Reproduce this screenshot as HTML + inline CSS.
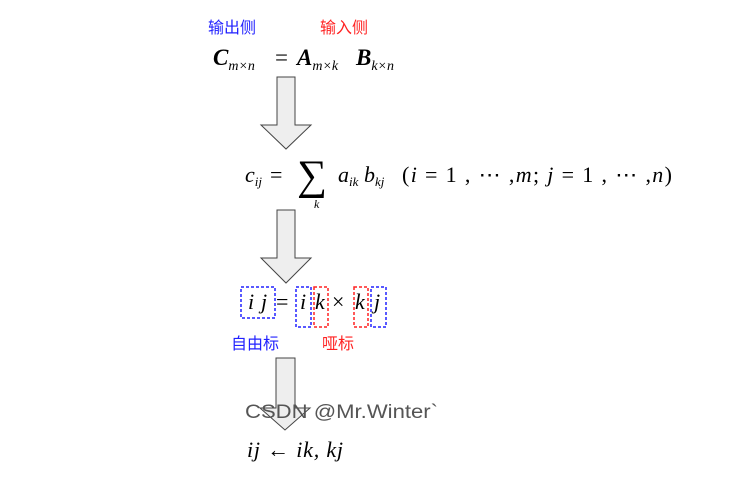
<!DOCTYPE html>
<html><head><meta charset="utf-8"><style>
html,body{margin:0;padding:0;background:#fff;}
svg{display:block}
.m{font-family:"Liberation Serif",serif;font-style:italic;fill:#000}
.r{font-family:"Liberation Serif",serif;fill:#000}
.c{font-family:"Liberation Sans","Noto Sans CJK SC",sans-serif;font-size:16px}
</style></head><body>
<svg width="752" height="483" xmlns="http://www.w3.org/2000/svg">
<text x="208" y="33" class="c" fill="#2222ff">输出侧</text>
<text x="320" y="33" class="c" fill="#ff2222">输入侧</text>

<text y="65" class="m" font-size="23" font-weight="bold"><tspan x="213">C</tspan><tspan font-size="14" font-weight="normal" dy="5">m×n</tspan><tspan class="r" font-style="normal" font-weight="normal" dy="-5" x="275">=</tspan><tspan x="297">A</tspan><tspan font-size="14" font-weight="normal" dy="5">m×k</tspan><tspan dy="-5" x="356">B</tspan><tspan font-size="14" font-weight="normal" dy="5">k×n</tspan></text>

<g fill="#eeeeee" stroke="#444" stroke-width="1">
<polygon points="277,77 295,77 295,125 311,125 286,149 261,125 277,125"/>
<polygon points="277,210 295,210 295,258 311,258 286,283 261,258 277,258"/>
<polygon points="276,358 295,358 295,408 310,408 285,430 260,408 276,408"/>
</g>

<text y="182" class="m" font-size="22"><tspan x="245">c</tspan><tspan font-size="13" dy="4">ij</tspan><tspan class="r" font-style="normal" dy="-4" x="270">=</tspan></text>
<text x="297" y="189" class="r" font-size="42">∑</text>
<text x="314" y="208" class="m" font-size="12">k</text>
<text y="182" class="m" font-size="22"><tspan x="338">a</tspan><tspan font-size="13" dy="4">ik</tspan><tspan dy="-4" x="364">b</tspan><tspan font-size="13" dy="4">kj</tspan></text>
<text x="402" y="182" class="r" font-size="22" textLength="270" lengthAdjust="spacing">(<tspan font-style="italic">i</tspan> = 1 , ⋯ ,<tspan font-style="italic">m</tspan>; <tspan font-style="italic">j</tspan> = 1 , ⋯ ,<tspan font-style="italic">n</tspan>)</text>

<text y="309" class="m" font-size="22"><tspan x="248">i</tspan><tspan x="261">j</tspan><tspan class="r" font-style="normal" x="276">=</tspan><tspan x="300">i</tspan><tspan x="315">k</tspan><tspan class="r" font-style="normal" x="332">×</tspan><tspan x="355">k</tspan><tspan x="374">j</tspan></text>
<g fill="none" stroke-width="1.5" stroke-dasharray="3,2">
<rect x="241" y="287" width="34" height="31" stroke="#2222ff"/>
<rect x="296" y="287" width="15" height="40" stroke="#2222ff"/>
<rect x="314" y="287" width="14" height="40" stroke="#ff2222"/>
<rect x="354" y="287" width="14" height="40" stroke="#ff2222"/>
<rect x="371" y="287" width="15" height="40" stroke="#2222ff"/>
</g>
<text x="231" y="349" class="c" fill="#2222ff">自由标</text>
<text x="322" y="349" class="c" fill="#ff2222">哑标</text>

<text x="245" y="418" font-family="Liberation Sans,sans-serif" font-size="19" fill="#555" textLength="193" lengthAdjust="spacingAndGlyphs">CSDN @Mr.Winter`</text>

<text x="247" y="457" class="m" font-size="22" textLength="96">ij <tspan class="r" font-style="normal">←</tspan> ik, kj</text>
</svg>
</body></html>
